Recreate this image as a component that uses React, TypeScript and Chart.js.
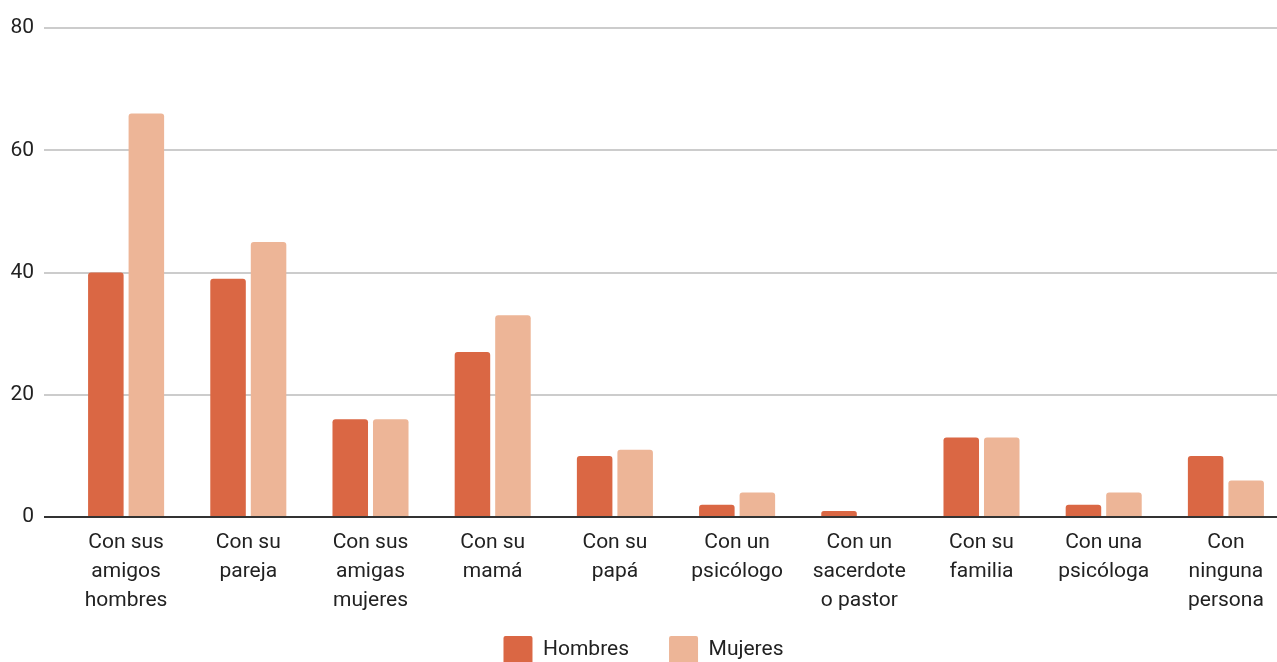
import React, { useEffect, useRef } from "react";
import { Chart, registerables } from "chart.js";

Chart.register(...registerables);

const categories: string[][] = [
  ["Con sus", "amigos", "hombres"],
  ["Con su", "pareja"],
  ["Con sus", "amigas", "mujeres"],
  ["Con su", "mamá"],
  ["Con su", "papá"],
  ["Con un", "psicólogo"],
  ["Con un", "sacerdote", "o pastor"],
  ["Con su", "familia"],
  ["Con una", "psicóloga"],
  ["Con", "ninguna", "persona"],
];
const hombres = [40, 39, 16, 27, 10, 2, 1, 13, 2, 10];
const mujeres = [66, 45, 16, 33, 11, 4, 0, 13, 4, 6];
const yTicks = [0, 20, 40, 60, 80];

const legendTweakPlugin = {
  id: "legendTweak",
  beforeInit(chart: any) {
    const legend = chart.legend;
    if (!legend) return;
    const origFit = legend.fit;
    legend.fit = function () {
      origFit.call(this);
      this.height = 72;
    };
    const origDraw = legend.draw;
    legend.draw = function () {
      const t = this.top;
      this.top = t - 22;
      origDraw.call(this);
      this.top = t;
    };
  },
};

export default function App() {
  const ref = useRef<HTMLCanvasElement>(null);
  useEffect(() => {
    document.body.style.margin = "0";
    const common = {
      borderRadius: { topLeft: 3, topRight: 3, bottomLeft: 0, bottomRight: 0 },
      borderSkipped: false,
      categoryPercentage: 0.663,
      barPercentage: 0.877,
    };
    const chart = new Chart(ref.current!, {
      type: "bar",
      data: {
        labels: categories,
        datasets: [
          { label: "Hombres", data: hombres, backgroundColor: "#DA6744", ...common },
          { label: "Mujeres", data: mujeres, backgroundColor: "#EDB597", ...common },
        ],
      },
      plugins: [legendTweakPlugin],
      options: {
        animation: false,
        responsive: true,
        maintainAspectRatio: false,
        layout: { padding: { top: 28, right: 0, left: 0, bottom: 0 } },
        plugins: {
          tooltip: { enabled: false },
          legend: {
            position: "bottom",
            labels: {
              boxWidth: 29,
              boxHeight: 28,
              padding: 40,
              color: "#222",
              font: { family: "Roboto", size: 21 },
              useBorderRadius: true,
              borderRadius: 2,
            },
          },
        },
        scales: {
          x: {
            grid: { display: false },
            border: { display: false },
            ticks: {
              color: "#222",
              font: { family: "Roboto", size: 21, lineHeight: 1.38 },
              maxRotation: 0,
              autoSkip: false,
              padding: 3,
            },
          },
          y: {
            min: 0,
            max: 80,
            afterFit: (s: any) => {
              s.width = 65;
            },
            afterBuildTicks: (s: any) => {
              s.ticks = yTicks.map((v) => ({ value: v }));
            },
            border: { display: false },
            grid: {
              drawTicks: true,
              tickLength: 21,
              lineWidth: 2,
              color: (c: any) => (c.tick && c.tick.value === 0 ? "#333" : "#ccc"),
            },
            ticks: {
              color: "#222",
              font: { family: "Roboto", size: 21 },
              padding: 10,
            },
          },
        },
      },
    });
    return () => chart.destroy();
  }, []);
  return (
    <div style={{ position: "fixed", left: 0, top: 0, width: 1277, height: 662, overflow: "hidden" }}>
      <div style={{ position: "relative", width: 1287, height: 690 }}>
        <canvas ref={ref} />
      </div>
    </div>
  );
}
